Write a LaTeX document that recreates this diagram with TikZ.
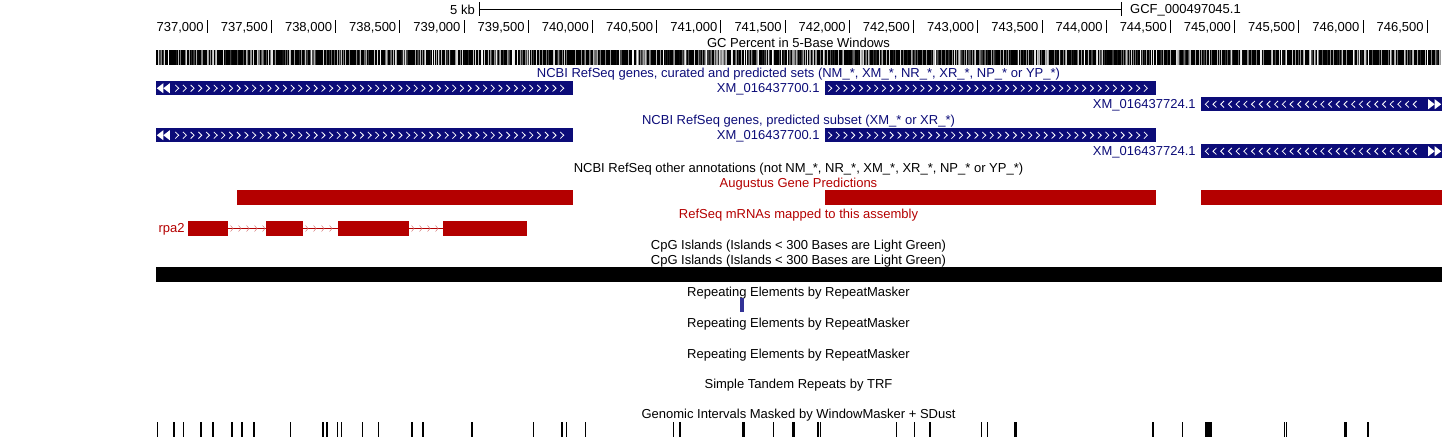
\documentclass[tikz,border=0pt]{standalone}
\usepackage{fontspec}
\setmainfont{Liberation Sans}
\usetikzlibrary{positioning}
\definecolor{ncbiblue}{RGB}{12,12,120}
\definecolor{genered}{RGB}{180,0,0}
\definecolor{rmskblue}{RGB}{50,50,150}
\tikzset{
  lbl/.style={font=\fontsize{13}{15}\selectfont, inner sep=0pt},
  trackname/.style={lbl, anchor=base},
  ncbibar/.style={fill=ncbiblue, minimum height=14.5pt, inner sep=0pt},
  redbar/.style={fill=genered, minimum height=15pt, inner sep=0pt},
  chev/.style={white, line width=0.8pt},
  ichev/.style={genered!55, line width=0.5pt},
}

\begin{document}
\begin{tikzpicture}[x=1pt, y=-1pt]
  \useasboundingbox (0,0) rectangle (1443,438);

  % ruler
  \coordinate (sbl) at (479,9.5);
  \coordinate (sbr) at (1121,9.5);
  \draw[line width=1pt] (sbl) -- (sbr);
  \draw[line width=1pt] ([yshift=7pt]sbl) -- ([yshift=-7pt]sbl);
  \draw[line width=1pt] ([yshift=7pt]sbr) -- ([yshift=-7pt]sbr);
  \node[lbl, left=4pt of sbl] (kb) {5 kb};
  \node[lbl, right=9pt of sbr, yshift=-1pt] (asm) {GCF\_000497045.1};
  \foreach \k in {0,...,19}{
    \pgfmathsetmacro\tx{207.3+64.21*\k}
    \pgfmathtruncatemacro\kb{737+floor(\k/2)}
    \pgfmathtruncatemacro\odd{mod(\k,2)}
    \draw[line width=1pt] (\tx,20.5) -- (\tx,33.5);
    \node[lbl, anchor=base east] (pos\k) at (\tx-3.5,32) {\kb,\ifnum\odd=0 000\else500\fi};
  }

  % GC percent
  \node[trackname] (gcpct) at (798.5,48) {GC Percent in 5-Base Windows};
  \pgfmathsetseed{42}
  \foreach \i in {156,...,1440}{
    \pgfmathtruncatemacro\g{rnd<0.55 ? 100 : 100*rnd}
    \fill[black!\g] (\i,50) rectangle ++(1,15);
  }

  % NCBI RefSeq all
  \node[trackname, ncbiblue] (refall) at (798.5,78)
    {NCBI RefSeq genes, curated and predicted sets (NM\_*, XM\_*, NR\_*, XR\_*, NP\_* or YP\_*)};
  \node[ncbibar, minimum width=417pt] (all1) at (364.5,88.25) {};
  \node[ncbibar, minimum width=331pt] (all2) at (990.5,88.25) {};
  \node[ncbibar, minimum width=241pt] (all3) at (1321.5,104.25) {};
  \node[lbl, ncbiblue, left=5pt of all2, yshift=-1.5pt] (xm700) {XM\_016437700.1};
  \node[lbl, ncbiblue, left=5pt of all3, yshift=-1.5pt] (xm724) {XM\_016437724.1};

  % NCBI RefSeq predicted
  \node[trackname, ncbiblue] (refpred) at (798.5,125)
    {NCBI RefSeq genes, predicted subset (XM\_* or XR\_*)};
  \node[ncbibar, minimum width=417pt] (pred1) at (364.5,135.25) {};
  \node[ncbibar, minimum width=331pt] (pred2) at (990.5,135.25) {};
  \node[ncbibar, minimum width=241pt] (pred3) at (1321.5,151.25) {};
  \node[lbl, ncbiblue, left=5pt of pred2, yshift=-1.5pt] (xm700p) {XM\_016437700.1};
  \node[lbl, ncbiblue, left=5pt of pred3, yshift=-1.5pt] (xm724p) {XM\_016437724.1};

  \foreach \b in {all1,pred1}{
    \fill[white] ([xshift=1pt]\b.west) -- ++(6.5,-5) -- ++(0,10) -- cycle;
    \fill[white] ([xshift=7.5pt]\b.west) -- ++(6.5,-5) -- ++(0,10) -- cycle;
  }
  \foreach \b in {all3,pred3}{
    \fill[white] ([xshift=-1pt]\b.east) -- ++(-6.5,-5) -- ++(0,10) -- cycle;
    \fill[white] ([xshift=-7.5pt]\b.east) -- ++(-6.5,-5) -- ++(0,10) -- cycle;
  }
  \foreach \y in {88.25,135.25}{
    \foreach \x in {177,184.7,...,569}
      \draw[chev] (\x-1.7,\y-3.3) -- (\x+1.7,\y) -- (\x-1.7,\y+3.3);
    \foreach \x in {830,837.7,...,1153}
      \draw[chev] (\x-1.7,\y-3.3) -- (\x+1.7,\y) -- (\x-1.7,\y+3.3);
  }
  \foreach \y in {104.25,151.25}
    \foreach \x in {1207,1214.7,...,1421}
      \draw[chev] (\x+1.7,\y-3.3) -- (\x-1.7,\y) -- (\x+1.7,\y+3.3);

  % other annotations, Augustus
  \node[trackname] (refother) at (798.5,172.5)
    {NCBI RefSeq other annotations (not NM\_*, NR\_*, XM\_*, XR\_*, NP\_* or YP\_*)};
  \node[trackname, genered] (augustus) at (798.5,188) {Augustus Gene Predictions};
  \node[redbar, minimum width=336pt] (aug1) at (405,197.5) {};
  \node[redbar, minimum width=331pt] (aug2) at (990.5,197.5) {};
  \node[redbar, minimum width=241pt] (aug3) at (1321.5,197.5) {};

  % RefSeq mRNAs
  \node[trackname, genered] (mrna) at (798.5,219) {RefSeq mRNAs mapped to this assembly};
  \node[redbar, minimum width=40pt] (ex1) at (208,228.5) {};
  \node[redbar, minimum width=37pt] (ex2) at (284.5,228.5) {};
  \node[redbar, minimum width=71pt] (ex3) at (373.5,228.5) {};
  \node[redbar, minimum width=84pt] (ex4) at (485,228.5) {};
  \node[lbl, genered, left=3pt of ex1, yshift=-1pt] (rpa) {rpa2};
  \draw[genered, line width=0.8pt] (ex1.east) -- (ex2.west) (ex2.east) -- (ex3.west)
    (ex3.east) -- (ex4.west);
  \foreach \x in {233,241,...,265, 308,316,...,337, 414,422,...,442}
    \draw[ichev] (\x-2.5,225.5) -- (\x,228.5) -- (\x-2.5,231.5);

  % CpG
  \node[trackname] (cpg1) at (798.5,250) {CpG Islands (Islands < 300 Bases are Light Green)};
  \node[trackname] (cpg2) at (798.5,265) {CpG Islands (Islands < 300 Bases are Light Green)};
  \fill (156,267) rectangle (1442,282);

  % repeats
  \node[trackname] (rmsk1) at (798.5,297) {Repeating Elements by RepeatMasker};
  \fill[rmskblue] (740,298) rectangle (744,312.5);
  \node[trackname] (rmsk2) at (798.5,327.5) {Repeating Elements by RepeatMasker};
  \node[trackname] (rmsk3) at (798.5,358) {Repeating Elements by RepeatMasker};
  \node[trackname] (trf) at (798.5,388) {Simple Tandem Repeats by TRF};
  \node[trackname] (wmask) at (798.5,418.5) {Genomic Intervals Masked by WindowMasker + SDust};
  \foreach \x/\w in {157/1, 172.5/2, 183/1, 200/2, 212/2, 230.5/2, 240.5/2, 252.5/2,
      289.5/1.5, 322/2, 325.5/2, 337/1, 340.5/1, 361.5/1.5, 377.5/1.5, 410.5/2, 422/2,
      471/2, 532.5/1.5, 560.5/2, 565.5/1.5, 584.5/1.5, 672.5/1.5, 678.5/2, 742/2.5,
      772.5/1.5, 792/2.5, 817/1.5, 819.5/1.5, 895.5/1.5, 913.5/1.5, 929/1.5, 980.5/1.5,
      986.5/1.5, 1014/2.5, 1152/2, 1181.5/1.5, 1205/6.5, 1283.5/1, 1285.5/1, 1344/2.5,
      1366.5/2}
    \fill (\x,422) rectangle ++(\w,15);
\end{tikzpicture}
\end{document}
